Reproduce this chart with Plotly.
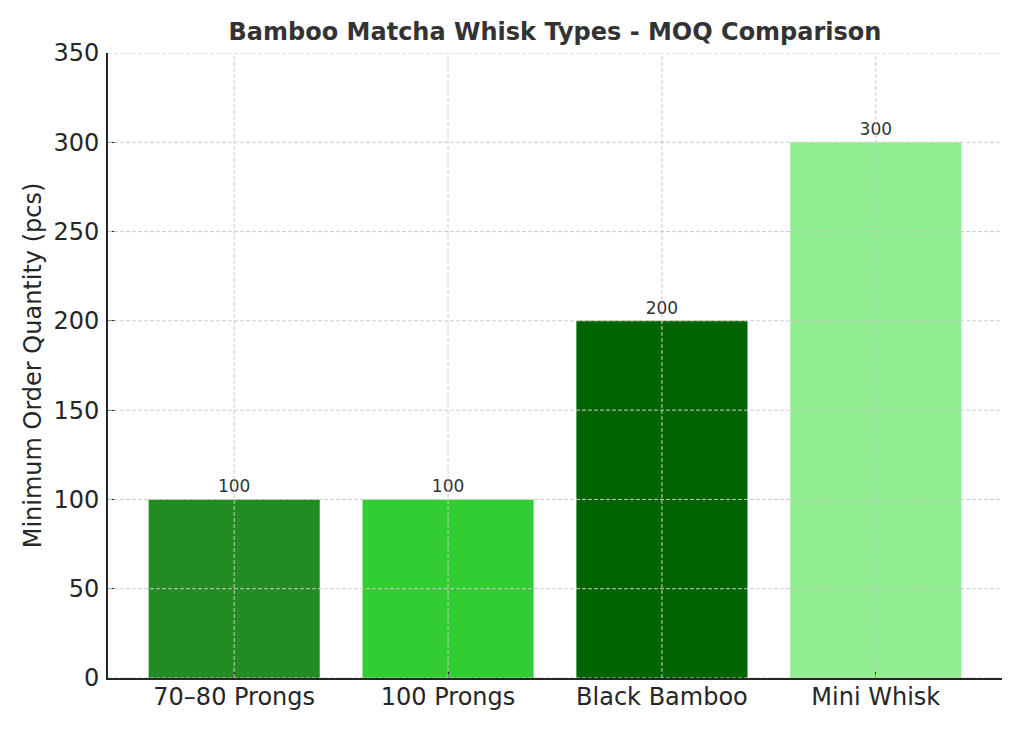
import plotly.graph_objects as go

categories = ["70–80 Prongs", "100 Prongs", "Black Bamboo", "Mini Whisk"]
moq = [100, 100, 200, 300]
bar_colors = ["#228B22", "#32CD32", "#006400", "#90EE90"]
y_ticks = [0, 50, 100, 150, 200, 250, 300, 350]

FONT = "DejaVu Sans"
TXT = "#333333"
AX = "#262626"
OFF = 8  # page body margin

fig = go.Figure()
fig.add_trace(go.Bar(
    x=categories, y=moq, marker=dict(color=bar_colors, line=dict(width=0)),
    width=0.8, text=[str(v) for v in moq], textposition="outside",
    textfont=dict(family=FONT, size=17, color=TXT), cliponaxis=False,
    hoverinfo="skip",
))

grid = dict(color="#cccccc", width=1, dash="4px,2px")
shapes = []
for t in y_ticks:
    shapes.append(dict(type="line", xref="paper", yref="y", x0=0, x1=1, y0=t, y1=t,
                       line=grid, layer="above"))
for c in categories:
    shapes.append(dict(type="line", xref="x", yref="paper", x0=c, x1=c, y0=0, y1=1,
                       line=grid, layer="above"))

W, H = 1024, 731
L, T = 108 - OFF, 53 - OFF
PW, PH = 1002 - 108, 678 - 53

fig.update_layout(
    width=W, height=H,
    margin=dict(l=L, r=W - L - PW, t=T, b=H - T - PH, autoexpand=False),
    paper_bgcolor="white", plot_bgcolor="white",
    showlegend=False,
    shapes=shapes,
    title=dict(text="<b>Bamboo Matcha Whisk Types - MOQ Comparison</b>",
               x=((108 + 1002) / 2 - OFF) / W, xanchor="center", xref="container",
               y=1 - (32 - OFF) / H, yanchor="middle", yref="container",
               font=dict(family=FONT, size=24, color=TXT)),
    font=dict(family=FONT, color=TXT),
    bargap=0.2,
)
fig.update_xaxes(
    range=[-0.59, 3.59], showgrid=False, showline=True, linecolor=AX, linewidth=1.6,
    ticks="inside", ticklen=7, tickwidth=1.2, tickcolor=AX, automargin=False,
    ticklabelstandoff=-4,
    tickfont=dict(family=FONT, size=24, color=AX), layer="above traces",
)
fig.update_yaxes(
    range=[0, 350], tickvals=y_ticks, showgrid=False, zeroline=False, showline=True,
    linecolor=AX, linewidth=1.6, ticks="inside", ticklen=7, tickwidth=1.2,
    tickcolor=AX, tickfont=dict(family=FONT, size=24, color=AX), automargin=False,
    ticklabelstandoff=2,
    title=dict(text="Minimum Order Quantity (pcs)", standoff=5,
               font=dict(family=FONT, size=24, color=AX)),
    layer="above traces",
)

fig.write_html("out.html")
